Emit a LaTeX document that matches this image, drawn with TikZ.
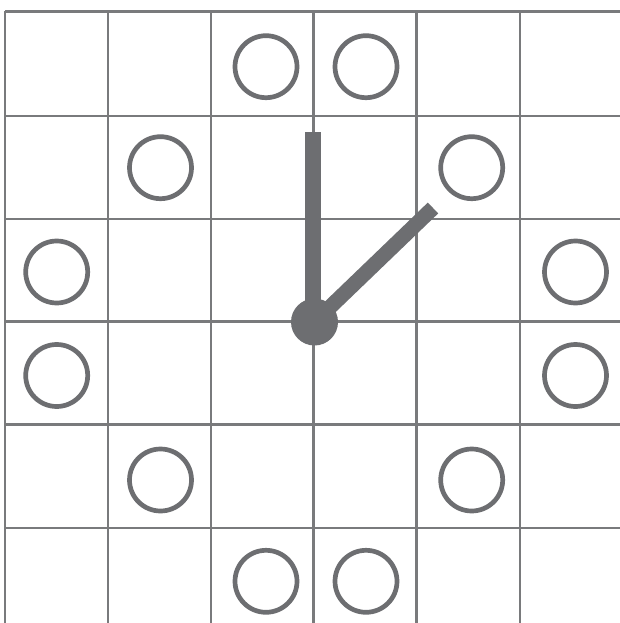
\documentclass[tikz,border=0pt]{standalone}
\begin{document}
\begin{tikzpicture}[x=1pt,y=-1pt,
  gridline/.style={draw=clockgray!92!white, line width=2.8pt},
  ring/.style={circle, draw=clockgray, line width=4.7pt, minimum size=62pt, inner sep=0pt},
  hand/.style={draw=clockgray, line cap=butt},
  pivot/.style={circle, fill=clockgray, minimum size=47pt, inner sep=0pt}]
\definecolor{clockgray}{HTML}{6D6E71}
\useasboundingbox (0,0) rectangle (620,623);
\fill[white] (0,0) rectangle (620,623);
% grid
\foreach \x in {5,108,211,313.5,416.5,520}
  \draw[gridline] (\x,11.5) -- (\x,623);
\foreach \y in {11.5,116,219,321.5,424.7,528}
  \draw[gridline] (5,\y) -- (620,\y);
% rings
\foreach \x/\y/\n in {266/66.7/a,366/66.7/b,160.5/167.7/c,471.7/167.7/d,
  56.7/272/e,575.5/272/f,56.7/375.5/g,575.5/375.5/h,
  160.5/480/i,471.7/480/j,266/581.3/k,366/581.3/l} {
  \node[ring] (ring\n) at (\x,\y) {};
}
% hands
\coordinate (center) at (314.5,322);
\coordinate (tipA) at (312.5,131.5);
\coordinate (tipB) at (433,208);
\draw[hand, line width=16pt] (312.5,322) -- (tipA);
\draw[hand, line width=15pt] (center) -- (tipB);
\node[pivot] (pivot) at (center) {};
\end{tikzpicture}
\end{document}
